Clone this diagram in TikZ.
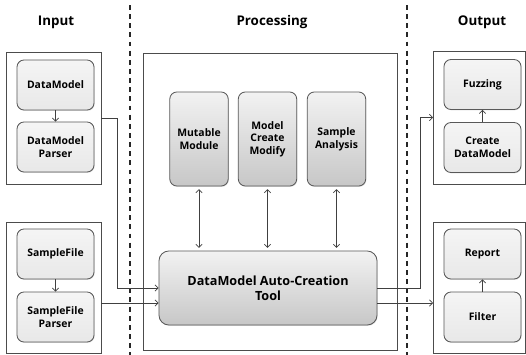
\documentclass[tikz,border=0pt]{standalone}
\usepackage{fontspec}
\setmainfont{Open Sans}
\usetikzlibrary{positioning,calc,arrows.meta,shadows}

\tikzset{
  frame/.style={draw=black!70, line width=0.6pt, inner sep=0pt, outer sep=0pt},
  unit/.style={draw=black!65, line width=0.6pt, rounded corners=5pt,
    top color=black!4, bottom color=black!9, align=center,
    font=\fontsize{7.4}{9}\selectfont\bfseries,
    minimum width=1.925cm, minimum height=1.25cm,
    drop shadow={opacity=0.25, shadow xshift=0.5pt, shadow yshift=-0.6pt}},
  module/.style={unit, top color=black!5, bottom color=black!22,
    minimum width=1.46cm, minimum height=2.35cm},
  toolbox/.style={module, font=\fontsize{9}{11}\selectfont\bfseries,
    minimum width=5.45cm, minimum height=1.85cm, rounded corners=7pt},
  title/.style={font=\fontsize{9.5}{11}\selectfont\bfseries},
  divider/.style={line width=1.4pt, dash pattern=on 3.5pt off 3pt, black!85},
  link/.style={draw=black!75, line width=0.5pt},
}

\begin{document}
\begin{tikzpicture}[x=0.025cm,y=-0.025cm,>={Straight Barb[length=2.2pt,width=4.5pt]}]
    \useasboundingbox (0,0) rectangle (526,355);
    % titles and column dividers
    \node (tin) at (56,22) [title] {Input};
    \node (tproc) at (272,22) [title] {Processing};
    \node (tout) at (482,22) [title] {Output};
    \draw [divider] (130,5) -- (130,355);
    \draw [divider] (407,5) -- (407,355);
    % group frames
    \node (inbox1) at (53.5,118) [frame,minimum width=2.375cm,minimum height=3.3cm] {};
    \node (inbox2) at (53.5,287.5) [frame,minimum width=2.375cm,minimum height=3.275cm] {};
    \node (proc) at (270,201.5) [frame,minimum width=6.35cm,minimum height=7.425cm] {};
    \node (outbox1) at (479,117.5) [frame,minimum width=2.3cm,minimum height=3.325cm] {};
    \node (outbox2) at (479,287.5) [frame,minimum width=2.3cm,minimum height=3.275cm] {};
    % input side
    \node (dm) at (55.5,85) [unit] {DataModel};
    \node (dmp) at (55.5,147) [unit] {DataModel\\Parser};
    \node (sf) at (55.5,254) [unit] {SampleFile};
    \node (sfp) at (55.5,317) [unit] {SampleFile\\Parser};
    % processing
    \node (mut) at (199,139) [module] {Mutable\\Module};
    \node (mcm) at (267.5,139) [module] {Model\\Create\\Modify};
    \node (sa) at (336.5,139) [module] {Sample\\Analysis};
    \node (tool) at (268,288) [toolbox] {DataModel Auto-Creation\\Tool};
    % output side
    \node (fz) at (482.5,84.5) [unit] {Fuzzing};
    \node (cdm) at (482.5,147.5) [unit] {Create\\DataModel};
    \node (rep) at (482.5,254) [unit] {Report};
    \node (fil) at (482.5,317) [unit] {Filter};
    \coordinate (in2) at ($(tool.west)+(0,15)$);
    \coordinate (out2) at ($(tool.east)+(0,15)$);
    % connectors
    \draw [link,->] (dm) -- (dmp);
    \draw [link,->] (sf) -- (sfp);
    \draw [link,->] (cdm) -- (fz);
    \draw [link,->] (fil) -- (rep);
    \draw [link,->] (inbox1.east) -- ++(16,0) |- (tool.west);
    \draw [link,->] (inbox2.east |- in2) -- (in2);
    \draw [link,->] (tool.east) -- ++(43,0) |- (outbox1.west);
    \draw [link,->] (out2) -- (outbox2.west |- out2);
    \foreach \m in {mut,mcm,sa}
      \draw [link,<->,shorten <=2pt,shorten >=2pt] (\m.south) -- (\m.south |- tool.north);
\end{tikzpicture}
\end{document}
